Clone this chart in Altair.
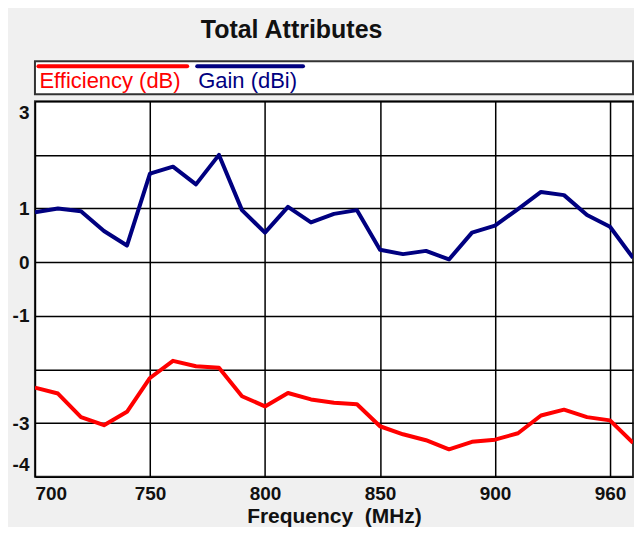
import altair as alt
import pandas as pd

# ---- data ----
freq = list(range(700, 961, 10))
gain_dbi = [0.93, 1.00, 0.95, 0.58, 0.31, 1.65, 1.78, 1.45, 2.00, 0.97,
            0.55, 1.03, 0.74, 0.90, 0.97, 0.23, 0.15, 0.21, 0.05, 0.55,
            0.68, 0.99, 1.31, 1.25, 0.88, 0.66, 0.08]
efficiency_db = [-2.34, -2.45, -2.89, -3.04, -2.79, -2.16, -1.84, -1.94, -1.97, -2.50,
                 -2.69, -2.44, -2.56, -2.62, -2.65, -3.06, -3.21, -3.32, -3.49, -3.35,
                 -3.31, -3.19, -2.86, -2.75, -2.89, -2.95, -3.37]
series_names = ["Efficiency (dB)", "Gain (dBi)"]
series_colors = ["#ff0000", "#000080"]
x_ticks = [700, 750, 800, 850, 900, 950]
y_ticks = [-4, -3, -2, -1, 0, 1, 2, 3]

df = pd.DataFrame({
    "freq": freq + freq,
    "value": efficiency_db + gain_dbi,
    "series": [series_names[0]] * len(freq) + [series_names[1]] * len(freq),
})

FONT = "Liberation Sans"
TXT = "#111111"

color = alt.Color("series:N",
                  scale=alt.Scale(domain=series_names, range=series_colors),
                  legend=None)

lines = alt.Chart(df).mark_line(strokeWidth=4, strokeJoin="round", clip=True).encode(
    x=alt.X("freq:Q",
            scale=alt.Scale(domain=[700, 960], nice=False, zero=False),
            axis=alt.Axis(values=x_ticks,
                          labelExpr="datum.value == 950 ? '960' : '' + datum.value",
                          title="Frequency \u00a0(MHz)",
                          grid=True, gridColor="#000000", gridWidth=1.5,
                          ticks=False, domain=False, labelFlush=True,
                          labelFont=FONT, labelFontSize=19, labelFontWeight="bold",
                          labelColor=TXT, labelPadding=8,
                          titleFont=FONT, titleFontSize=21, titleFontWeight="bold",
                          titleColor=TXT, titlePadding=2)),
    y=alt.Y("value:Q",
            scale=alt.Scale(domain=[-4, 3], nice=False, zero=False),
            axis=alt.Axis(values=y_ticks,
                          labelExpr="datum.value == 2 || datum.value == -2 ? '' : '' + datum.value",
                          title=None,
                          grid=True, gridColor="#000000", gridWidth=1.5,
                          ticks=False, domain=False, labelFlush=True,
                          labelFlushOffset=-2,
                          labelFont=FONT, labelFontSize=19, labelFontWeight="bold",
                          labelColor=TXT, labelPadding=6)),
    color=color,
).properties(width=599, height=376)

# ---- legend box (symbol line above the label) ----
leg_df = pd.DataFrame({"series": series_names})
leg_base = alt.Chart(leg_df)
leg_layers = []
for name, x0, x1 in [(series_names[0], 3.5, 152.5), (series_names[1], 162.5, 268.5)]:
    sub = leg_base.transform_filter(alt.datum.series == name)
    leg_layers.append(
        sub.mark_rule(strokeWidth=4, strokeCap="round").encode(
            x=alt.value(x0), x2=alt.value(x1), y=alt.value(5), color=color))
    leg_layers.append(
        sub.mark_text(align="left", baseline="alphabetic", font=FONT, fontSize=22).encode(
            x=alt.value(x0 + 1), y=alt.value(27), text="series:N", color=color))

legend_panel = alt.layer(*leg_layers).properties(width=599, height=33)

chart = alt.vconcat(legend_panel, lines, spacing=5).properties(
    title=alt.TitleParams("Total Attributes", font=FONT, fontSize=25, fontWeight="bold",
                          color=TXT, anchor="middle", dx=-31, offset=17),
    padding={"left": 3, "top": 10, "right": 0, "bottom": -1},
    background="#f0f0f0",
).configure_view(stroke="#333333", strokeWidth=2, fill="white")

chart.save("out.html", embed_options={"renderer": "svg", "actions": False})
